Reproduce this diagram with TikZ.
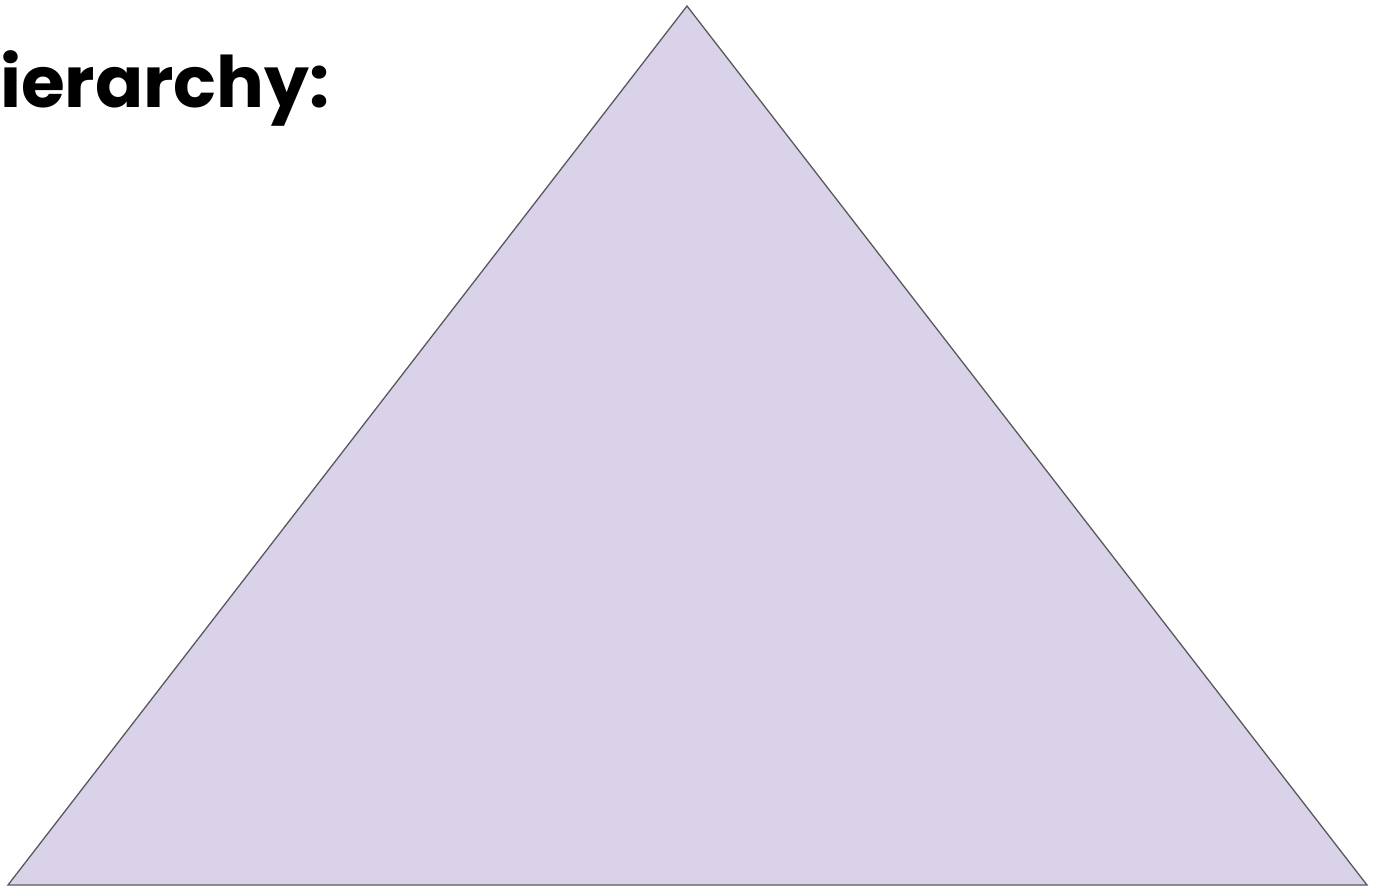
\documentclass[tikz,border=0pt]{standalone}
\usepackage{fontspec}
\setmainfont{Poppins}
\usetikzlibrary{positioning}
\definecolor{triFill}{HTML}{D9D2E9}
\definecolor{triLine}{HTML}{595959}

\begin{document}
\begin{tikzpicture}[x=1pt,y=-1pt,
  heading/.style={anchor=base west,inner sep=0pt,font=\fontsize{71}{85}\selectfont\bfseries},
  tri/.style={fill=triFill,draw=triLine,line width=1.3pt,line join=miter}]
  \useasboundingbox (0,0) rectangle (1382,893);
  \coordinate (top) at (687,6);
  \coordinate (bl) at (8,885);
  \coordinate (br) at (1367,885);
  \draw[tri] (top)--(br)--(bl)--cycle;
  \node[heading] (title) at (0,108) {ierarchy:};
\end{tikzpicture}
\end{document}
